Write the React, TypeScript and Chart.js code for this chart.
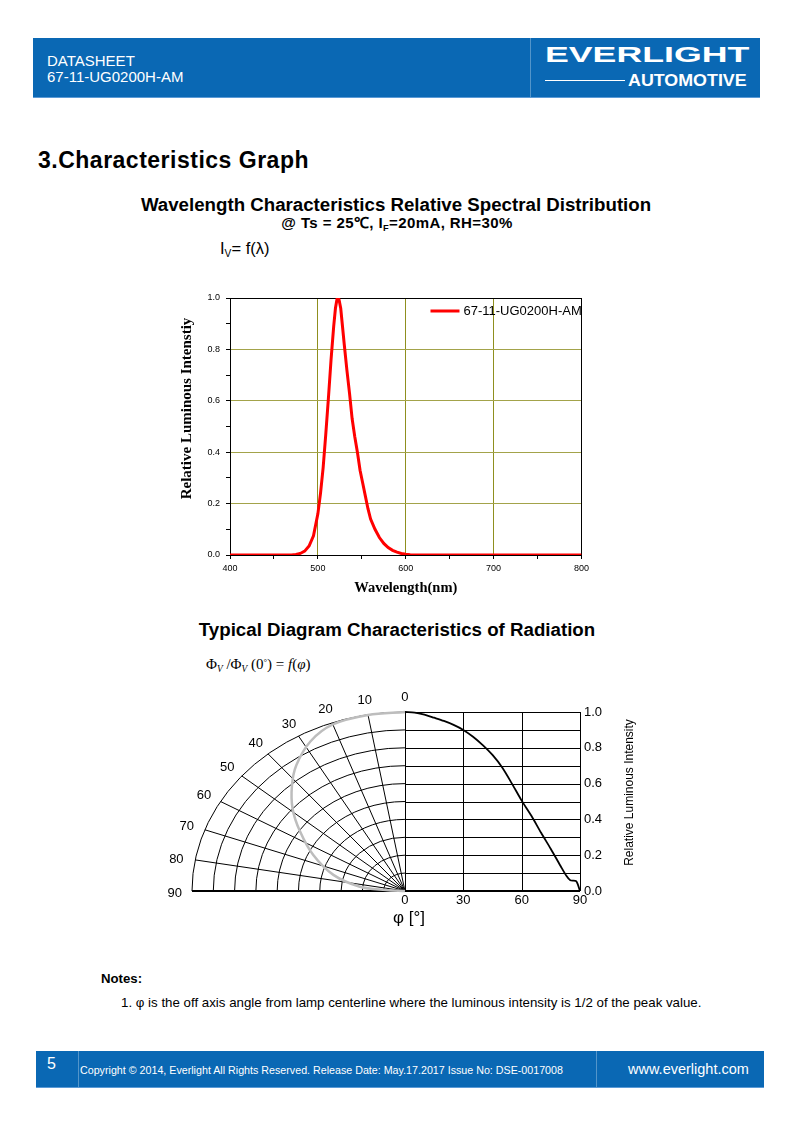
import React, { useEffect, useRef } from 'react';
import { Chart, registerables } from 'chart.js';

Chart.register(...registerables);

const SANS = '"Liberation Sans", Arial, Helvetica, sans-serif';
const SERIF = '"Liberation Serif", "Times New Roman", serif';

// ---------- Spectral distribution data ----------
const SERIES_LABEL = '67-11-UG0200H-AM';
const Y_TITLE_SPECTRAL = 'Relative Luminous Intenstiy';
const wavelengthNm = [400, 460, 470, 475, 480, 485, 490, 495, 500, 503, 506, 509, 512, 515, 518, 520, 522, 524, 526, 528, 530, 533, 536, 539, 542, 545, 548, 551, 554, 557, 560, 565, 570, 575, 580, 585, 590, 595, 600, 605, 610, 800];
const relIntensity = [0, 0, 0, 0.002, 0.006, 0.015, 0.035, 0.075, 0.16, 0.24, 0.34, 0.47, 0.61, 0.76, 0.89, 0.96, 1.0, 0.995, 0.96, 0.89, 0.82, 0.72, 0.63, 0.53, 0.46, 0.4, 0.33, 0.28, 0.23, 0.18, 0.14, 0.1, 0.068, 0.045, 0.029, 0.018, 0.011, 0.006, 0.003, 0.001, 0, 0];
const specMajorX = [500, 600, 700];
const specMajorY = [0.2, 0.4, 0.6, 0.8];

// ---------- Radiation diagram data ----------
const angleDeg = [0, 5, 10, 15, 20, 25, 30, 35, 40, 45, 50, 55, 60, 65, 70, 75, 80, 83, 85, 88, 90];
const radIntensity = [1.0, 0.997, 0.985, 0.968, 0.95, 0.928, 0.9, 0.862, 0.815, 0.76, 0.69, 0.6, 0.505, 0.42, 0.325, 0.235, 0.14, 0.085, 0.06, 0.055, 0];
const polarAngleDeg = [0, 10, 20, 28, 36, 42, 49, 56, 65, 75, 83.5, 86.5, 90];
const polarRadius = [1.0, 0.998, 0.99, 0.946, 0.868, 0.793, 0.699, 0.594, 0.475, 0.348, 0.213, 0.09, 0];
const polarLabelAngles = [0, 10, 20, 30, 40, 50, 60, 70, 80, 90];
const ringRadii = [0.1, 0.2, 0.3, 0.4, 0.5, 0.6, 0.7, 0.8, 0.9, 1.0];
const xTickDeg = [0, 30, 60, 90];
const yTickRad = [0, 0.2, 0.4, 0.6, 0.8, 1.0];
const rightGridY = [0.1, 0.2, 0.3, 0.4, 0.5, 0.6, 0.7, 0.8, 0.9, 1.0];
// width (in x-axis units) that radius 1.0 of the polar half spans
const POLAR_X_SPAN = 109.5;

const rad = (d: number) => (d * Math.PI) / 180;

const spectralPlugin = {
  id: 'spectralFrame',
  beforeDatasetsDraw(chart: any) {
    const { ctx, chartArea: a } = chart;
    ctx.save();
    ctx.strokeStyle = '#000';
    ctx.lineWidth = 1;
    ctx.strokeRect(Math.round(a.left) + 0.5, Math.round(a.top) + 0.5, Math.round(a.right - a.left), Math.round(a.bottom - a.top));
    ctx.restore();
  },
  afterDatasetsDraw(chart: any) {
    const { ctx, chartArea: a } = chart;
    const ds = chart.data.datasets[0];
    const yy = a.top + 13;
    ctx.save();
    ctx.strokeStyle = ds.borderColor;
    ctx.lineWidth = 3;
    ctx.beginPath();
    ctx.moveTo(a.right - 151, yy);
    ctx.lineTo(a.right - 122, yy);
    ctx.stroke();
    ctx.fillStyle = '#000';
    ctx.font = `13px ${SANS}`;
    ctx.textBaseline = 'middle';
    ctx.textAlign = 'left';
    ctx.fillText(ds.label, a.right - 118, yy + 0.5);
    // y axis title, drawn like the original (slightly above centre)
    ctx.font = `bold 15px ${SERIF}`;
    ctx.textAlign = 'center';
    ctx.translate(a.left - 43, (a.top + a.bottom) / 2 - 18);
    ctx.rotate(-Math.PI / 2);
    ctx.fillText(Y_TITLE_SPECTRAL, 0, 0);
    ctx.restore();
  },
};

const radiationPlugin = {
  id: 'radiationGrid',
  beforeDatasetsDraw(chart: any) {
    const { ctx, scales } = chart;
    const x = scales.x, y = scales.y;
    const cx = x.getPixelForValue(0);
    const cy = y.getPixelForValue(0);
    const rx = cx - x.getPixelForValue(-POLAR_X_SPAN);
    const ry = cy - y.getPixelForValue(1);
    ctx.save();
    ctx.strokeStyle = '#000';
    ctx.lineWidth = 1;
    ringRadii.forEach((r) => {
      ctx.beginPath();
      ctx.ellipse(cx, cy, rx * r, ry * r, 0, Math.PI, 1.5 * Math.PI);
      ctx.stroke();
    });
    polarLabelAngles.forEach((d) => {
      if (d === 0 || d === 90) return;
      ctx.beginPath();
      ctx.moveTo(cx, cy);
      ctx.lineTo(cx - rx * Math.sin(rad(d)), cy - ry * Math.cos(rad(d)));
      ctx.stroke();
    });
    rightGridY.forEach((v) => {
      const py = Math.round(y.getPixelForValue(v)) + 0.5;
      ctx.beginPath();
      ctx.moveTo(x.getPixelForValue(0), py);
      ctx.lineTo(x.getPixelForValue(90), py);
      ctx.stroke();
    });
    xTickDeg.forEach((d) => {
      const px = Math.round(x.getPixelForValue(d)) + 0.5;
      ctx.beginPath();
      ctx.moveTo(px, y.getPixelForValue(0));
      ctx.lineTo(px, y.getPixelForValue(1));
      ctx.stroke();
    });
    ctx.lineWidth = 2;
    ctx.beginPath();
    ctx.moveTo(x.getPixelForValue(-POLAR_X_SPAN), cy);
    ctx.lineTo(x.getPixelForValue(90), cy);
    ctx.stroke();
    ctx.restore();
  },
  afterDraw(chart: any) {
    const { ctx, scales, chartArea: a } = chart;
    const x = scales.x, y = scales.y;
    ctx.save();
    ctx.fillStyle = '#000';
    ctx.font = `13px ${SANS}`;
    ctx.textAlign = 'center';
    ctx.textBaseline = 'middle';
    const f = 1.09;
    polarLabelAngles.forEach((d) => {
      const px = x.getPixelForValue(-POLAR_X_SPAN * f * Math.sin(rad(d)));
      const py = y.getPixelForValue(f * Math.cos(rad(d)));
      ctx.fillText(String(d), px + (d === 90 ? 2 : 0), py + 2);
    });
    // right axis title (reads bottom to top)
    ctx.save();
    ctx.font = `12px ${SANS}`;
    ctx.translate(a.right + 50, (a.top + a.bottom) / 2 - 9);
    ctx.rotate(-Math.PI / 2);
    ctx.fillText('Relative Luminous Intensity', 0, 0);
    ctx.restore();
    // x axis title
    ctx.font = `17px ${SANS}`;
    ctx.fillText('φ [°]', x.getPixelForValue(0) + 4, a.bottom + 27);
    ctx.restore();
  },
};

type TxtProps = {
  x: number; base: number; size: number; bold?: boolean; family?: string; color?: string;
  center?: boolean; children: React.ReactNode; style?: React.CSSProperties;
};
const Txt = ({ x, base, size, bold, family = SANS, color = '#000', center, children, style }: TxtProps) => (
  <div
    style={{
      position: 'absolute', left: x, top: base - 0.8465 * size, fontSize: size, lineHeight: `${size}px`,
      fontFamily: family, fontWeight: bold ? 'bold' : 'normal', color, whiteSpace: 'nowrap',
      transform: center ? 'translateX(-50%)' : undefined, ...style,
    }}
  >
    {children}
  </div>
);

const subStyle: React.CSSProperties = { fontSize: '0.62em', position: 'relative', top: '0.3em' };

export default function App() {
  const specRef = useRef<HTMLCanvasElement | null>(null);
  const radRef = useRef<HTMLCanvasElement | null>(null);

  useEffect(() => {
    if (!specRef.current) return;
    const chart = new Chart(specRef.current, {
      type: 'line',
      data: {
        datasets: [{
          label: SERIES_LABEL,
          data: wavelengthNm.map((w, i) => ({ x: w, y: relIntensity[i] })),
          borderColor: '#ff0000',
          borderWidth: 3,
          pointRadius: 0,
          tension: 0,
          fill: false,
        }],
      },
      options: {
        responsive: false,
        animation: false,
        devicePixelRatio: 1,
        layout: { padding: { top: 13, right: 6, left: 0, bottom: 0 } },
        plugins: { legend: { display: false }, tooltip: { enabled: false } },
        scales: {
          x: {
            type: 'linear', min: 400, max: 800,
            ticks: {
              stepSize: 50, autoSkip: false, maxRotation: 0, color: '#000', padding: 4,
              font: { family: SANS, size: 9 },
              callback: (v: any) => (Math.round(v) % 100 === 0 ? String(v) : ''),
            },
            grid: {
              color: (c: any) => (specMajorX.includes(Math.round(c.tick?.value)) ? '#8f8f1f' : 'rgba(0,0,0,0)'),
              tickColor: '#000', tickLength: 4, lineWidth: 1,
            },
            border: { color: '#000', width: 1 },
            title: { display: true, text: 'Wavelength(nm)', color: '#000', font: { family: SERIF, size: 14.5, weight: 'bold' }, padding: { top: 2, bottom: 8 } },
            afterFit: (s: any) => { s.height = 50; },
          },
          y: {
            type: 'linear', min: 0, max: 1,
            ticks: {
              stepSize: 0.1, autoSkip: false, color: '#000', padding: 6,
              font: { family: SANS, size: 9 },
              callback: (v: any) => (Math.round(v * 10) % 2 === 0 ? Number(v).toFixed(1) : ''),
            },
            grid: {
              color: (c: any) => (specMajorY.some((m) => Math.abs(m - c.tick?.value) < 1e-6) ? '#a3a34a' : 'rgba(0,0,0,0)'),
              tickColor: '#000', tickLength: 4, lineWidth: 1,
            },
            border: { color: '#000', width: 1 },
            title: { display: false },
            afterFit: (s: any) => { s.width = 60; },
          },
        },
      } as any,
      plugins: [spectralPlugin],
    });
    return () => chart.destroy();
  }, []);

  useEffect(() => {
    if (!radRef.current) return;
    const chart = new Chart(radRef.current, {
      type: 'scatter',
      data: {
        datasets: [
          {
            label: 'polar pattern',
            data: polarAngleDeg.map((d, i) => ({
              x: -POLAR_X_SPAN * polarRadius[i] * Math.sin(rad(d)),
              y: polarRadius[i] * Math.cos(rad(d)),
            })),
            showLine: true, borderColor: '#bdbdbd', borderWidth: 2.5, pointRadius: 0, tension: 0.35, clip: false,
          },
          {
            label: 'relative intensity',
            data: angleDeg.map((d, i) => ({ x: d, y: radIntensity[i] })),
            showLine: true, borderColor: '#000', borderWidth: 1.8, pointRadius: 0, tension: 0.3, clip: false,
          },
        ],
      },
      options: {
        responsive: false,
        animation: false,
        devicePixelRatio: 1,
        layout: { padding: { top: 27, left: 32, right: 0, bottom: 0 } },
        plugins: { legend: { display: false }, tooltip: { enabled: false } },
        scales: {
          x: {
            type: 'linear', min: -POLAR_X_SPAN, max: 90, position: 'bottom',
            afterBuildTicks: (s: any) => { s.ticks = xTickDeg.map((v) => ({ value: v })); },
            ticks: { autoSkip: false, maxRotation: 0, color: '#000', padding: 2, font: { family: SANS, size: 13 } },
            grid: { display: false, drawTicks: false, tickLength: 0 },
            border: { display: false },
            afterFit: (s: any) => { s.height = 44; },
          },
          y: {
            type: 'linear', min: 0, max: 1, position: 'right',
            afterBuildTicks: (s: any) => { s.ticks = yTickRad.map((v) => ({ value: v })); },
            ticks: { autoSkip: false, color: '#000', padding: 4, font: { family: SANS, size: 13 }, callback: (v: any) => Number(v).toFixed(1) },
            grid: { display: false, drawTicks: false, tickLength: 0 },
            border: { display: false },
            afterFit: (s: any) => { s.width = 70; },
          },
        },
      } as any,
      plugins: [radiationPlugin],
    });
    return () => chart.destroy();
  }, []);

  const blue = '#0a68b4';
  const divider = 'rgba(255,255,255,0.3)';

  return (
    <div style={{ position: 'absolute', left: 0, top: 0, width: 793, height: 1123, overflow: 'hidden', background: '#fff', fontFamily: SANS }}>
      {/* Header */}
      <div style={{ position: 'absolute', left: 33, top: 38, width: 727, height: 59, background: blue, borderBottom: '1px solid #5b9ad6' }} />
      <div style={{ position: 'absolute', left: 530, top: 38, width: 1, height: 59, background: divider }} />
      <Txt x={47} base={65.5} size={15} color="#fff">DATASHEET</Txt>
      <Txt x={47} base={81.5} size={15} color="#fff">67-11-UG0200H-AM</Txt>
      <div style={{ position: 'absolute', left: 545, top: 44.5, fontFamily: SANS, fontWeight: 900, fontSize: 21.5, lineHeight: '21.5px', color: '#fff', transform: 'scaleX(1.66)', transformOrigin: 'left top', whiteSpace: 'nowrap' }}>EVERLIGHT</div>
      <div style={{ position: 'absolute', left: 545, top: 79.5, width: 80, height: 1.5, background: '#fff' }} />
      <div style={{ position: 'absolute', left: 628, top: 72, fontFamily: SANS, fontWeight: 900, fontSize: 17, lineHeight: '17px', color: '#fff', transform: 'scaleX(1.05)', transformOrigin: 'left top', whiteSpace: 'nowrap' }}>AUTOMOTIVE</div>

      {/* Section heading */}
      <Txt x={38} base={168} size={23} bold style={{ letterSpacing: 0.5 }}>3.Characteristics Graph</Txt>

      {/* Spectral chart titles */}
      <Txt x={396} base={211.5} size={18.7} bold center>Wavelength Characteristics Relative Spectral Distribution</Txt>
      <Txt x={397} base={228} size={15} bold center style={{ letterSpacing: 0.4 }}>@ Ts = 25℃, I<span style={subStyle}>F</span>=20mA, RH=30%</Txt>
      <Txt x={220} base={254} size={16.5}>I<span style={subStyle}>V</span>= f(λ)</Txt>

      <canvas ref={specRef} width={423} height={320} style={{ position: 'absolute', left: 170, top: 285, width: 423, height: 320 }} />

      {/* Radiation chart titles */}
      <Txt x={397} base={637} size={18.7} bold center>Typical Diagram Characteristics of Radiation</Txt>
      <Txt x={206} base={670} size={15} family={SERIF}>
        Φ<span style={{ ...subStyle, fontStyle: 'italic' }}>V</span> /Φ<span style={{ ...subStyle, fontStyle: 'italic' }}>V</span> (0<span style={{ fontSize: '0.6em', position: 'relative', top: '-0.5em' }}>°</span>) = <i>f</i>(<i>φ</i>)
      </Txt>

      <canvas ref={radRef} width={490} height={250} style={{ position: 'absolute', left: 160, top: 685, width: 490, height: 250 }} />

      {/* Notes */}
      <Txt x={101} base={983} size={13.2} bold>Notes:</Txt>
      <Txt x={121} base={1007.5} size={13.3}>1. φ is the off axis angle from lamp centerline where the luminous intensity is 1/2 of the peak value.</Txt>

      {/* Footer */}
      <div style={{ position: 'absolute', left: 36, top: 1051, width: 728, height: 36, background: blue, borderBottom: '1px solid #5b9ad6' }} />
      <div style={{ position: 'absolute', left: 78, top: 1051, width: 1, height: 36, background: divider }} />
      <div style={{ position: 'absolute', left: 596, top: 1051, width: 1, height: 36, background: divider }} />
      <Txt x={47} base={1070} size={16} color="#fff">5</Txt>
      <Txt x={80} base={1074.5} size={10.7} color="#fff">Copyright © 2014, Everlight All Rights Reserved. Release Date: May.17.2017 Issue No: DSE-0017008</Txt>
      <Txt x={628} base={1074.5} size={14.5} color="#fff">www.everlight.com</Txt>
    </div>
  );
}
